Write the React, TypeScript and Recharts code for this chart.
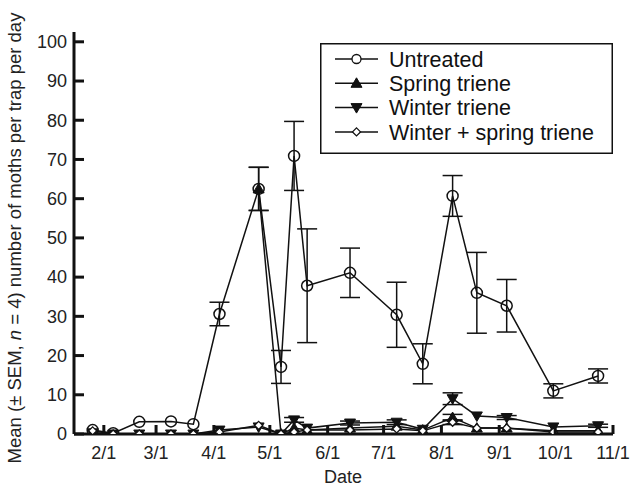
import React from 'react';
import { LineChart, Line, XAxis, YAxis, ErrorBar, Label } from 'recharts';

// ---------- data ----------
const sampleDates = ['1/26', '2/6', '2/20', '3/9', '3/21', '4/4', '4/25', '5/7', '5/14', '5/21', '6/13', '7/8', '7/22', '8/7', '8/20', '9/5', '9/30', '10/24'];
const untreatedMean = [1.0, 0.2, 3.1, 3.2, 2.5, 30.6, 62.5, 17.1, 70.9, 37.8, 41.1, 30.4, 17.9, 60.7, 36.0, 32.7, 11.0, 14.8];
const untreatedSem = [0, 0, 0, 0, 0, 3.0, 5.5, 4.2, 8.8, 14.5, 6.3, 8.3, 5.1, 5.2, 10.3, 6.7, 1.8, 1.8];

const springDates = ['4/25', '5/7', '5/14', '5/21', '6/13', '7/8', '7/22', '8/7', '8/20', '9/5', '9/30', '10/24'];
const springMean = [62.5, 0, 1.5, 1.0, 1.5, 2.0, 1.0, 4.2, 1.5, 1.5, 0.8, 0.8];
const springSem = [5.5, 0, 0, 0, 0, 0, 0, 0.8, 0, 0, 0, 0];

const winterMean = [0.3, 0, 0, 0, 0, 1.0, 1.8, 0, 3.6, 1.5, 2.8, 3.0, 1.2, 9.0, 4.6, 4.2, 1.8, 2.1];
const winterSem = [0, 0, 0, 0, 0, 0, 0, 0, 0.6, 0, 0.5, 0.6, 0, 1.5, 0, 0.5, 0, 0.4];

const bothMean = [0.8, 0, 0, 0, 0, 0.5, 2.2, 0, 0.5, 1.0, 1.0, 1.3, 0.8, 3.0, 1.5, 1.5, 0.5, 0.5];
const bothSem = [0, 0, 0, 0, 0, 0, 0, 0, 0, 0, 0, 0, 0, 0.6, 0, 0, 0, 0];

const xTickLabels = ['2/1', '3/1', '4/1', '5/1', '6/1', '7/1', '8/1', '9/1', '10/1', '11/1'];
const yTicks = [0, 10, 20, 30, 40, 50, 60, 70, 80, 90, 100];

const legendNames = ['Untreated', 'Spring triene', 'Winter triene', 'Winter + spring triene'];

// ---------- helpers ----------
const monthStarts = [0, 31, 59, 90, 120, 151, 181, 212, 243, 273, 304, 334];
const toDay = (s: string) => {
  const [m, d] = s.split('/').map(Number);
  return monthStarts[m - 1] + d;
};
const build = (dates: string[], mean: number[], sem: number[]) =>
  dates.map((dt, i) => ({ d: toDay(dt), v: mean[i], e: sem[i] > 0 ? sem[i] : null }));

const untreatedData = build(sampleDates, untreatedMean, untreatedSem);
const springData = build(springDates, springMean, springSem);
const winterData = build(sampleDates, winterMean, winterSem);
const bothData = build(sampleDates, bothMean, bothSem);

const xTicks = xTickLabels.map(toDay);
const dayToLabel: Record<number, string> = {};
xTickLabels.forEach((l) => (dayToLabel[toDay(l)] = l));

const FONT = 'Liberation Sans, Arial, Helvetica, sans-serif';

// ---------- markers ----------
const Circle = ({ cx, cy }: any) => (
  <circle cx={cx} cy={cy} r={5.5} fill="none" stroke="#111" strokeWidth={1.5} />
);
const TriUp = ({ cx, cy }: any) => (
  <path d={`M${cx},${cy - 5.5} L${cx + 5.5},${cy + 4} L${cx - 5.5},${cy + 4} Z`} fill="#111" stroke="#111" strokeWidth={1} />
);
const TriDown = ({ cx, cy }: any) => (
  <path d={`M${cx},${cy + 5.5} L${cx + 5.5},${cy - 4} L${cx - 5.5},${cy - 4} Z`} fill="#111" stroke="#111" strokeWidth={1} />
);
const Diamond = ({ cx, cy }: any) => (
  <path d={`M${cx},${cy - 4} L${cx + 4},${cy} L${cx},${cy + 4} L${cx - 4},${cy} Z`} fill="#fff" stroke="#111" strokeWidth={1.3} />
);

const markerFns = [Circle, TriUp, TriDown, Diamond];

// ---------- ticks ----------
const YTick = ({ x, y, payload }: any) => (
  <g>
    <line x1={x} x2={x + 10} y1={y} y2={y} stroke="#111" strokeWidth={3} />
    <text x={x - 7} y={y} dy="0.35em" textAnchor="end" fontSize={18} fontFamily={FONT} fill="#222">
      {payload.value}
    </text>
  </g>
);
const XTick = ({ x, y, payload }: any) => (
  <g>
    <line x1={x} x2={x} y1={y} y2={y - 9} stroke="#111" strokeWidth={3} />
    <text x={x} y={y + 19} dy="0.35em" textAnchor="middle" fontSize={18} fontFamily={FONT} fill="#222">
      {dayToLabel[payload.value] ?? ''}
    </text>
  </g>
);

// ---------- legend (overlay) ----------
const LegendBox = () => (
  <svg width={293} height={111} style={{ position: 'absolute', left: 320, top: 43, display: 'block' }}>
    <rect x={0.75} y={0.75} width={291.5} height={109.5} fill="#fff" stroke="#111" strokeWidth={1.5} />
    {legendNames.map((name, i) => {
      const cy = 16 + i * 24.3;
      const M = markerFns[i];
      return (
        <g key={name}>
          <line x1={15} x2={58} y1={cy} y2={cy} stroke="#111" strokeWidth={1.5} />
          {i === 0 ? (
            <circle cx={36.5} cy={cy} r={4.5} fill="#fff" stroke="#111" strokeWidth={1.3} />
          ) : (
            <M cx={36.5} cy={cy} />
          )}
          <text x={69} y={cy} dy="0.36em" fontSize={21.5} fontFamily={FONT} fill="#111">
            {name}
          </text>
        </g>
      );
    })}
  </svg>
);

const YLabel = () => (
  <text
    transform="translate(21,238) rotate(-90)"
    textAnchor="middle"
    fontSize={18.5}
    fontFamily={FONT}
    fill="#222"
  >
    Mean (± SEM, <tspan fontStyle="italic">n</tspan> = 4) number of moths per trap per day
  </text>
);

const XLabel = () => (
  <text x={343} y={483} textAnchor="middle" fontSize={18} fontFamily={FONT} fill="#222">
    Date
  </text>
);

const seriesList = [
  { key: 'Untreated', data: untreatedData, dot: Circle },
  { key: 'Spring triene', data: springData, dot: TriUp },
  { key: 'Winter triene', data: winterData, dot: TriDown },
  { key: 'Winter + spring triene', data: bothData, dot: Diamond },
];

export default function App() {
  return (
    <div style={{ position: 'absolute', left: 0, top: 0, width: 630, height: 488, background: '#fff' }}>
      <LineChart width={630} height={488} margin={{ top: 32, right: 17, bottom: 0, left: 0 }}>
        <XAxis
          type="number"
          dataKey="d"
          domain={[16, 305]}
          ticks={xTicks}
          interval={0}
          allowDataOverflow
          height={54}
          tickSize={0}
          tickMargin={0}
          tick={<XTick />}
          axisLine={{ stroke: '#111', strokeWidth: 3 }}
        >
          <Label content={<XLabel />} />
        </XAxis>
        <YAxis
          type="number"
          domain={[0, 102.5]}
          ticks={yTicks}
          interval={0}
          allowDataOverflow
          width={74}
          tickSize={0}
          tickMargin={0}
          tick={<YTick />}
          axisLine={{ stroke: '#111', strokeWidth: 3 }}
        >
          <Label content={<YLabel />} />
        </YAxis>
        {seriesList.map((s) => (
          <Line
            key={s.key}
            name={s.key}
            data={s.data}
            dataKey="v"
            stroke="#111"
            strokeWidth={1.5}
            dot={(p: any) => <s.dot key={`${s.key}-${p.index}`} cx={p.cx} cy={p.cy} />}
            activeDot={false}
            isAnimationActive={false}
          >
            <ErrorBar dataKey="e" width={10} stroke="#111" strokeWidth={1.5} direction="y" />
          </Line>
        ))}
      </LineChart>
      <LegendBox />
    </div>
  );
}
